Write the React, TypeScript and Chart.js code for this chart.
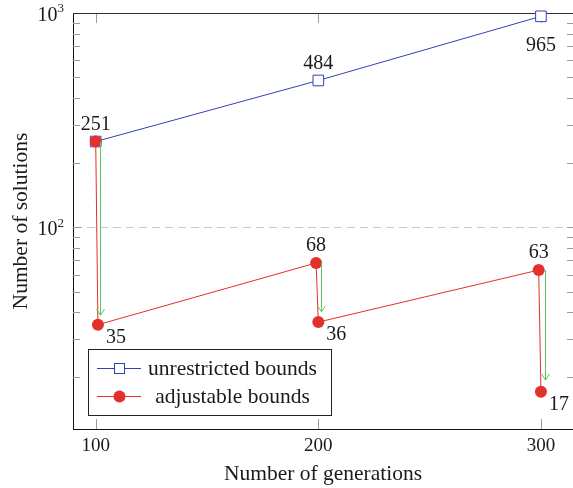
import React, { useEffect, useRef } from 'react';
import { Chart, registerables } from 'chart.js';

Chart.register(...registerables);

// ---- data ----
const seriesLabels = ['unrestricted bounds', 'adjustable bounds'];
const blueX = [100, 200, 300];
const blueY = [251, 484, 965];
const redX = [100, 101, 199, 200, 299, 300];
const redY = [251, 35, 68, 36, 63, 17];
const arrowX = [102, 201, 302];
const arrowFrom = [251, 68, 63];
const arrowTo = [38.8, 40.2, 19.3];
const xTicks = [100, 200, 300];
const yTicks = [20, 30, 40, 50, 60, 70, 80, 90, 100, 200, 300, 400, 500, 600, 700, 800, 900, 1000];
const yMajorBase = '10';
const yMajorExp: Record<number, string> = { 100: '2', 1000: '3' };
const xTitle = 'Number of generations';
const yTitle = 'Number of solutions';
// label placement (style)
const blueLabelPos = ['none', 'above', 'below'];
const redLabelPos = ['above', 'belowRight', 'above', 'belowRight', 'above', 'belowRight'];

const FONT = "'Liberation Serif', 'Times New Roman', serif";
const BLUE = '#3340b4';
const RED = '#e3302a';
const GREEN = '#5cc85c';

const overlayPlugin = {
  id: 'overlay',
  beforeDatasetsDraw(chart: any) {
    const { ctx, chartArea } = chart;
    const xs = chart.scales.x;
    const ys = chart.scales.y;
    ctx.save();
    ctx.strokeStyle = '#9a9a9a';
    ctx.lineWidth = 1;
    ctx.beginPath();
    for (const v of yTicks) {
      const y = Math.round(ys.getPixelForValue(v)) + 0.5;
      const len = yMajorExp[v] ? 8 : 7;
      ctx.moveTo(chartArea.left, y);
      ctx.lineTo(chartArea.left + len, y);
      ctx.moveTo(chartArea.right, y);
      ctx.lineTo(chartArea.right - 6, y);
    }
    for (const v of xTicks) {
      const x = Math.round(xs.getPixelForValue(v)) + 0.5;
      ctx.moveTo(x, chartArea.bottom);
      ctx.lineTo(x, chartArea.bottom - 10);
      ctx.moveTo(x, chartArea.top);
      ctx.lineTo(x, chartArea.top + 10);
    }
    ctx.stroke();
    // frame top
    ctx.strokeStyle = '#333';
    ctx.beginPath();
    ctx.moveTo(chartArea.left, Math.round(chartArea.top) + 0.5);
    ctx.lineTo(chartArea.right, Math.round(chartArea.top) + 0.5);
    ctx.stroke();
    // y major labels 10^n
    ctx.fillStyle = '#1a1a1a';
    ctx.textBaseline = 'middle';
    ctx.textAlign = 'left';
    for (const v of yTicks) {
      const e = yMajorExp[v];
      if (!e) continue;
      const y = ys.getPixelForValue(v);
      ctx.font = `13px ${FONT}`;
      const w2 = ctx.measureText(e).width;
      ctx.font = `20px ${FONT}`;
      const w1 = ctx.measureText(yMajorBase).width;
      const right = chartArea.left - 9;
      ctx.fillText(yMajorBase, right - w2 - w1, y + 3);
      ctx.font = `13px ${FONT}`;
      ctx.fillText(e, right - w2, y - 4);
    }
    ctx.restore();
  },
  afterDatasetsDraw(chart: any) {
    const { ctx } = chart;
    const xs = chart.scales.x;
    const ys = chart.scales.y;
    ctx.save();
    // arrows
    ctx.strokeStyle = GREEN;
    ctx.lineWidth = 1;
    arrowX.forEach((xv, i) => {
      const x = Math.round(xs.getPixelForValue(xv)) + 0.5;
      const y0 = ys.getPixelForValue(arrowFrom[i]);
      const y1 = ys.getPixelForValue(arrowTo[i]);
      ctx.beginPath();
      ctx.moveTo(x, y0);
      ctx.lineTo(x, y1);
      ctx.moveTo(x - 4, y1 - 6);
      ctx.lineTo(x, y1);
      ctx.lineTo(x + 4, y1 - 6);
      ctx.stroke();
    });
    // value labels
    ctx.fillStyle = '#1a1a1a';
    ctx.font = `20px ${FONT}`;
    ctx.textAlign = 'center';
    ctx.textBaseline = 'middle';
    const put = (xv: number, yv: number, pos: string) => {
      if (pos === 'none') return;
      const x = xs.getPixelForValue(xv);
      const y = ys.getPixelForValue(yv);
      let dx = 0, dy = 0;
      if (pos === 'above') { dy = -17; }
      else if (pos === 'below') { dy = 29; }
      else if (pos === 'belowRight') { dx = 18; dy = 13; }
      ctx.fillText(String(yv), x + dx, y + dy);
    };
    blueX.forEach((xv, i) => put(xv, blueY[i], blueLabelPos[i]));
    redX.forEach((xv, i) => put(xv, redY[i], redLabelPos[i]));

    // legend
    const bx = 88.5, by = 349.5, bw = 243, bh = 66;
    ctx.fillStyle = '#ffffff';
    ctx.fillRect(bx, by, bw, bh);
    ctx.strokeStyle = '#222';
    ctx.lineWidth = 1;
    ctx.strokeRect(bx, by, bw, bh);
    const rows = [368, 396];
    const colors = [BLUE, RED];
    rows.forEach((ry, i) => {
      ctx.strokeStyle = colors[i];
      ctx.beginPath();
      ctx.moveTo(97, ry + 0.5);
      ctx.lineTo(141, ry + 0.5);
      ctx.stroke();
      if (i === 0) {
        ctx.fillStyle = '#fff';
        ctx.fillRect(114, ry - 5, 11, 11);
        ctx.strokeRect(114.5, ry - 4.5, 10, 10);
      } else {
        ctx.fillStyle = RED;
        ctx.beginPath();
        ctx.arc(119.5, ry + 0.5, 6, 0, Math.PI * 2);
        ctx.fill();
      }
      ctx.fillStyle = '#1a1a1a';
      ctx.font = `21.5px ${FONT}`;
      ctx.textAlign = 'center';
      ctx.textBaseline = 'middle';
      ctx.fillText(seriesLabels[i], 232.5, ry + 1);
    });
    ctx.restore();
  },
};

export default function App() {
  const ref = useRef<HTMLCanvasElement>(null);
  useEffect(() => {
    if (!ref.current) return;
    Chart.defaults.font.family = FONT;
    const chart = new Chart(ref.current, {
      type: 'line',
      data: {
        datasets: [
          {
            label: seriesLabels[0],
            data: blueX.map((x, i) => ({ x, y: blueY[i] })),
            borderColor: BLUE,
            borderWidth: 1,
            pointStyle: 'rect',
            pointRadius: 7.5,
            pointBackgroundColor: '#ffffff',
            pointBorderColor: BLUE,
            pointBorderWidth: 1,
            order: 2,
            clip: false,
          },
          {
            label: seriesLabels[1],
            data: redX.map((x, i) => ({ x, y: redY[i] })),
            borderColor: RED,
            borderWidth: 1,
            pointStyle: 'circle',
            pointRadius: 6,
            pointBackgroundColor: RED,
            pointBorderColor: RED,
            pointBorderWidth: 0,
            order: 1,
            clip: false,
          },
        ],
      },
      options: {
        animation: false,
        responsive: false,
        devicePixelRatio: 1,
        layout: { autoPadding: false, padding: { top: 13, right: -1, left: 0, bottom: 0 } },
        plugins: { legend: { display: false }, tooltip: { enabled: false } },
        scales: {
          x: {
            type: 'linear',
            min: 89.8,
            max: 314.4,
            afterBuildTicks: (s: any) => { s.ticks = xTicks.map((v) => ({ value: v })); },
            afterFit: (s: any) => { s.height = 59; s.paddingLeft = 0; s.paddingRight = 0; },
            ticks: { font: { size: 19, family: FONT }, color: '#1a1a1a', padding: 6, maxRotation: 0 },
            grid: { display: false, drawTicks: false },
            border: { display: true, color: '#111', width: 1 },
            title: { display: true, text: xTitle, font: { size: 21.5, family: FONT }, color: '#1a1a1a', padding: { top: 0, bottom: 1 } },
          },
          y: {
            type: 'logarithmic',
            min: 11.4,
            max: 1000,
            afterBuildTicks: (s: any) => { s.ticks = yTicks.map((v) => ({ value: v, major: !!yMajorExp[v] })); },
            afterFit: (s: any) => { s.width = 73; s.paddingTop = 0; s.paddingBottom = 0; },
            ticks: {
              font: { size: 19, family: FONT },
              color: '#1a1a1a',
              padding: 8,
              autoSkip: false,
              callback: () => '',
            },
            grid: {
              drawTicks: false,
              color: (c: any) => (c.tick && c.tick.value === 100 ? '#c8c8c8' : 'transparent'),
              lineWidth: 1,
            },
            border: { display: true, color: '#111', width: 1, dash: [8, 5] },
            title: { display: true, text: yTitle, font: { size: 21.5, family: FONT }, color: '#1a1a1a', padding: { top: 8, bottom: 0 } },
          },
        },
      },
      plugins: [overlayPlugin],
    } as any);
    return () => chart.destroy();
  }, []);
  return (
    <div style={{ position: 'fixed', left: 0, top: 0, width: 573, height: 488, background: '#fff' }}>
      <canvas ref={ref} width={573} height={488} />
    </div>
  );
}
